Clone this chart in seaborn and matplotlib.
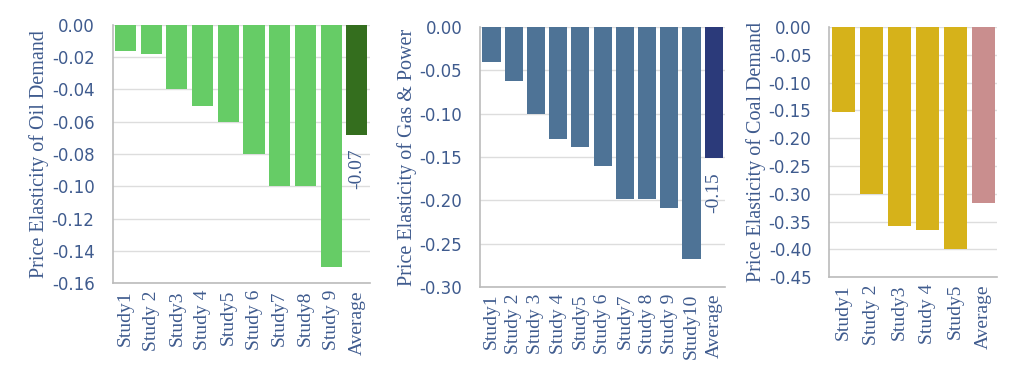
import pandas as pd
import seaborn as sns
import matplotlib.pyplot as plt

sns.set_theme(style="whitegrid")
plt.rcParams['font.family'] = ['DejaVu Sans']

TEXT = "#3f5b8e"

oil_labels = ["Study1", "Study 2", "Study3", "Study 4", "Study5", "Study 6", "Study7", "Study8", "Study 9", "Average"]
oil_values = [-0.016, -0.018, -0.040, -0.050, -0.060, -0.080, -0.100, -0.100, -0.150, -0.068]

gas_labels = ["Study1", "Study 2", "Study 3", "Study 4", "Study5", "Study 6", "Study7", "Study 8", "Study 9", "Study10", "Average"]
gas_values = [-0.040, -0.062, -0.100, -0.129, -0.139, -0.160, -0.199, -0.199, -0.209, -0.268, -0.151]

coal_labels = ["Study1", "Study 2", "Study3", "Study 4", "Study5", "Average"]
coal_values = [-0.152, -0.300, -0.358, -0.366, -0.399, -0.316]

panels = [
    (oil_labels, oil_values, "#66cc66", "#346e1e", "Price Elasticity of Oil Demand",
     -0.16, 0.02, [0.110, 0.247, 0.251, 0.687], True),
    (gas_labels, gas_values, "#4e7396", "#2b3a7a", "Price Elasticity of Gas & Power",
     -0.30, 0.05, [0.469, 0.237, 0.239, 0.691], True),
    (coal_labels, coal_values, "#d6b21a", "#c98e8e", "Price Elasticity of Coal Demand",
     -0.45, 0.05, [0.810, 0.263, 0.164, 0.665], False),
]

fig = plt.figure(figsize=(10.24, 3.76), dpi=100)

for labels, values, col, avg_col, ylabel, ymin, step, pos, show_avg in panels:
    ax = fig.add_axes(pos)
    df = pd.DataFrame({"study": labels, "value": values})
    colors = [col] * (len(labels) - 1) + [avg_col]
    sns.barplot(data=df, x="study", y="value", hue="study", palette=colors,
                legend=False, width=0.82, ax=ax, saturation=1, linewidth=0)
    ax.set_ylim(ymin, 0)
    n = int(round(-ymin / step))
    ticks = [-i * step for i in range(n + 1)]
    ax.set_yticks(ticks)
    ax.set_yticklabels(["0.00" if t == 0 else f"{t:.2f}" for t in ticks],
                       color=TEXT, fontsize=12)
    ax.set_xlim(-0.5, len(labels) - 0.5)
    ax.set_xticks(range(len(labels)))
    ax.set_xticklabels(labels, rotation=90, family="Liberation Serif",
                       fontsize=14, color=TEXT)
    ax.set_xlabel("")
    ax.set_ylabel(ylabel, family="Liberation Serif", fontsize=14.5, color=TEXT, labelpad=2)
    ax.grid(axis="x", visible=False)
    ax.grid(axis="y", color="#dddddd", linewidth=1)
    for s in ["top", "right"]:
        ax.spines[s].set_visible(False)
    for s in ["left", "bottom"]:
        ax.spines[s].set_color("#bbbbbb")
        ax.spines[s].set_linewidth(1.2)
    ax.tick_params(axis="x", length=0, pad=5)
    ax.tick_params(axis="y", length=0, pad=13)
    if show_avg:
        v = values[-1]
        ax.text(len(labels) - 1, v - (-ymin) * 0.055, f"{v:.2f}", rotation=90,
                ha="center", va="top", family="Liberation Serif",
                fontsize=14, color=TEXT)

fig.savefig("out.png", dpi=100)
